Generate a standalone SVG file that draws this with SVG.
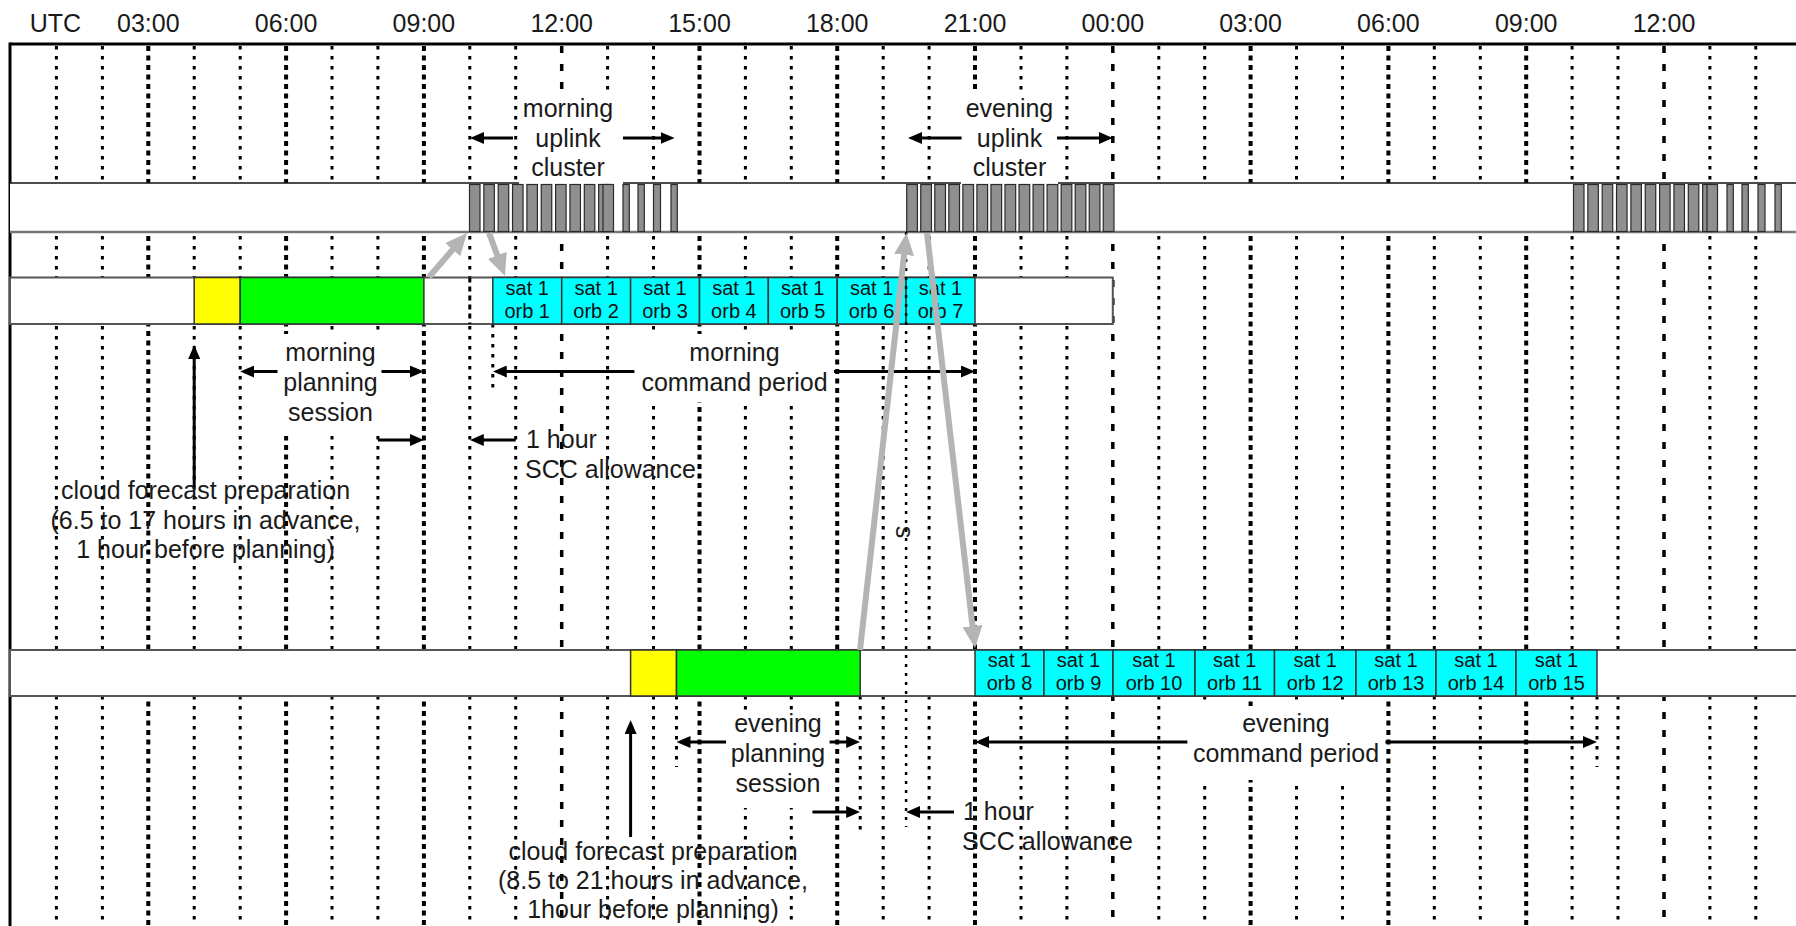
<svg xmlns="http://www.w3.org/2000/svg" width="1796" height="926" viewBox="0 0 1796 926">
<defs>
<style>
.t{font-family:"Liberation Sans",Arial,Helvetica,sans-serif;font-size:25px;fill:#1a1a1a}
.m{text-anchor:middle}
.s{font-family:"Liberation Sans",Arial,Helvetica,sans-serif;font-size:20px;fill:#111;text-anchor:middle}
.g1{stroke:#000;stroke-width:3;stroke-dasharray:3.5 6.5;fill:none}
.g3{stroke:#000;stroke-width:4;stroke-dasharray:5 4.5;fill:none}
.g12{stroke:#000;stroke-width:3.5;stroke-dasharray:7 11;fill:none}
.wb{fill:#fff;stroke:none}
.bar{fill:#fff;stroke:#555;stroke-width:2}
.cy{fill:#00ffff;stroke:#333;stroke-width:1.5}
.ye{fill:#ffff00;stroke:#333;stroke-width:1.5}
.gr{fill:#00ff00;stroke:#333;stroke-width:1.5}
.p{fill:#8f8f8f;stroke:#2a2a2a;stroke-width:1.2}
.ar{stroke:#000;stroke-width:3;fill:none;marker-end:url(#ah)}
.ga{stroke:#b4b4b4;stroke-width:6;fill:none;marker-end:url(#gh)}
</style>
<marker id="ah" viewBox="0 0 14 12" refX="6" refY="6" markerWidth="14" markerHeight="12" markerUnits="userSpaceOnUse" orient="auto">
<path d="M0,0 L14,6 L0,12 z" fill="#000"/>
</marker>
<marker id="gh" viewBox="0 0 22 20" refX="12" refY="10" markerWidth="22" markerHeight="20" markerUnits="userSpaceOnUse" orient="auto">
<path d="M0,0 L22,10 L0,20 z" fill="#b4b4b4"/>
</marker>
</defs>
<rect x="0" y="0" width="1796" height="926" fill="#fff"/>

<g id="header">
<text class="t m" x="55.5" y="32">UTC</text>
<text class="t m" x="148.3" y="32">03:00</text>
<text class="t m" x="286.1" y="32">06:00</text>
<text class="t m" x="423.9" y="32">09:00</text>
<text class="t m" x="561.7" y="32">12:00</text>
<text class="t m" x="699.5" y="32">15:00</text>
<text class="t m" x="837.2" y="32">18:00</text>
<text class="t m" x="975" y="32">21:00</text>
<text class="t m" x="1112.8" y="32">00:00</text>
<text class="t m" x="1250.6" y="32">03:00</text>
<text class="t m" x="1388.4" y="32">06:00</text>
<text class="t m" x="1526.2" y="32">09:00</text>
<text class="t m" x="1664" y="32">12:00</text>
</g>

<g id="grid">
<line class="g1" x1="56.4" y1="46" x2="56.4" y2="926"/>
<line class="g1" x1="102.4" y1="46" x2="102.4" y2="926"/>
<line class="g3" x1="148.3" y1="46" x2="148.3" y2="926"/>
<line class="g1" x1="194.2" y1="46" x2="194.2" y2="926"/>
<line class="g1" x1="240.2" y1="46" x2="240.2" y2="926"/>
<line class="g3" x1="286.1" y1="46" x2="286.1" y2="926"/>
<line class="g1" x1="332" y1="46" x2="332" y2="926"/>
<line class="g1" x1="377.9" y1="46" x2="377.9" y2="926"/>
<line class="g3" x1="423.9" y1="46" x2="423.9" y2="926"/>
<line class="g1" x1="469.8" y1="46" x2="469.8" y2="926"/>
<line class="g1" x1="515.7" y1="46" x2="515.7" y2="926"/>
<line class="g12" x1="561.7" y1="46" x2="561.7" y2="926"/>
<line class="g1" x1="607.6" y1="46" x2="607.6" y2="926"/>
<line class="g1" x1="653.5" y1="46" x2="653.5" y2="926"/>
<line class="g3" x1="699.5" y1="46" x2="699.5" y2="926"/>
<line class="g1" x1="745.4" y1="46" x2="745.4" y2="926"/>
<line class="g1" x1="791.3" y1="46" x2="791.3" y2="926"/>
<line class="g3" x1="837.2" y1="46" x2="837.2" y2="926"/>
<line class="g1" x1="883.2" y1="46" x2="883.2" y2="926"/>
<line class="g1" x1="929.1" y1="46" x2="929.1" y2="926"/>
<line class="g3" x1="975" y1="46" x2="975" y2="926"/>
<line class="g1" x1="1021" y1="46" x2="1021" y2="926"/>
<line class="g1" x1="1066.9" y1="46" x2="1066.9" y2="926"/>
<line class="g12" x1="1112.8" y1="46" x2="1112.8" y2="926"/>
<line class="g1" x1="1158.8" y1="46" x2="1158.8" y2="926"/>
<line class="g1" x1="1204.7" y1="46" x2="1204.7" y2="926"/>
<line class="g3" x1="1250.6" y1="46" x2="1250.6" y2="926"/>
<line class="g1" x1="1296.5" y1="46" x2="1296.5" y2="926"/>
<line class="g1" x1="1342.5" y1="46" x2="1342.5" y2="926"/>
<line class="g3" x1="1388.4" y1="46" x2="1388.4" y2="926"/>
<line class="g1" x1="1434.3" y1="46" x2="1434.3" y2="926"/>
<line class="g1" x1="1480.3" y1="46" x2="1480.3" y2="926"/>
<line class="g3" x1="1526.2" y1="46" x2="1526.2" y2="926"/>
<line class="g1" x1="1572.1" y1="46" x2="1572.1" y2="926"/>
<line class="g1" x1="1618" y1="46" x2="1618" y2="926"/>
<line class="g12" x1="1664" y1="46" x2="1664" y2="926"/>
<line class="g1" x1="1709.9" y1="46" x2="1709.9" y2="926"/>
<line class="g1" x1="1755.8" y1="46" x2="1755.8" y2="926"/>
<line class="g1" x1="492.8" y1="324" x2="492.8" y2="393"/>
<line class="g1" x1="676.5" y1="696" x2="676.5" y2="767"/>
<line class="g1" x1="860.2" y1="696" x2="860.2" y2="833"/>
<line class="g1" x1="1597" y1="696" x2="1597" y2="767"/>
</g>

<g id="frame">
<line x1="10" y1="44" x2="1796" y2="44" stroke="#000" stroke-width="3"/>
<line x1="10" y1="42.5" x2="10" y2="926" stroke="#000" stroke-width="3"/>
</g>

<g id="uplink-band">
<rect x="10" y="183" width="1786" height="49" fill="#fff"/>
<line x1="10" y1="183" x2="1796" y2="183" stroke="#111" stroke-width="1.5"/>
<line x1="10" y1="232" x2="1796" y2="232" stroke="#777" stroke-width="2.5"/>
</g>

<g id="label-boxes">
<rect class="wb" x="519" y="92" width="104" height="92.5"/>
<rect class="wb" x="961" y="90" width="97" height="94.5"/>
<rect class="wb" x="280" y="334" width="104" height="102"/>
<rect class="wb" x="636" y="334" width="196" height="68"/>
<rect class="wb" x="728" y="712" width="100" height="96"/>
<rect class="wb" x="1190" y="706" width="192" height="74"/>
</g>

<g id="morning-uplink-cluster">
<rect class="p" x="469.5" y="184.5" width="10.5" height="47"/>
<rect class="p" x="483.85" y="184.5" width="10.5" height="47"/>
<rect class="p" x="498.2" y="184.5" width="10.5" height="47"/>
<rect class="p" x="512.55" y="184.5" width="10.5" height="47"/>
<rect class="p" x="526.9" y="184.5" width="10.5" height="47"/>
<rect class="p" x="541.25" y="184.5" width="10.5" height="47"/>
<rect class="p" x="555.6" y="184.5" width="10.5" height="47"/>
<rect class="p" x="569.95" y="184.5" width="10.5" height="47"/>
<rect class="p" x="584.3" y="184.5" width="10.5" height="47"/>
<rect class="p" x="598.65" y="184.5" width="10.5" height="47"/>
<rect class="p" x="603" y="184.5" width="10.5" height="47"/>
<rect class="p" x="623" y="184.5" width="6.3" height="47"/>
<rect class="p" x="638" y="184.5" width="6.3" height="47"/>
<rect class="p" x="653.5" y="184.5" width="7" height="47"/>
<rect class="p" x="671" y="184.5" width="6.3" height="47"/>
</g>

<g id="evening-uplink-cluster">
<rect class="p" x="906.7" y="184.5" width="10.7" height="47"/>
<rect class="p" x="920.74" y="184.5" width="10.7" height="47"/>
<rect class="p" x="934.78" y="184.5" width="10.7" height="47"/>
<rect class="p" x="948.82" y="184.5" width="10.7" height="47"/>
<rect class="p" x="962.86" y="184.5" width="10.7" height="47"/>
<rect class="p" x="976.9" y="184.5" width="10.7" height="47"/>
<rect class="p" x="990.94" y="184.5" width="10.7" height="47"/>
<rect class="p" x="1004.98" y="184.5" width="10.7" height="47"/>
<rect class="p" x="1019.02" y="184.5" width="10.7" height="47"/>
<rect class="p" x="1033.06" y="184.5" width="10.7" height="47"/>
<rect class="p" x="1047.1" y="184.5" width="10.7" height="47"/>
<rect class="p" x="1061.14" y="184.5" width="10.7" height="47"/>
<rect class="p" x="1075.18" y="184.5" width="10.7" height="47"/>
<rect class="p" x="1089.22" y="184.5" width="10.7" height="47"/>
<rect class="p" x="1103.26" y="184.5" width="10.7" height="47"/>
</g>

<g id="next-morning-uplink-cluster">
<rect class="p" x="1573.5" y="184.5" width="10.5" height="47"/>
<rect class="p" x="1587.85" y="184.5" width="10.5" height="47"/>
<rect class="p" x="1602.2" y="184.5" width="10.5" height="47"/>
<rect class="p" x="1616.55" y="184.5" width="10.5" height="47"/>
<rect class="p" x="1630.9" y="184.5" width="10.5" height="47"/>
<rect class="p" x="1645.25" y="184.5" width="10.5" height="47"/>
<rect class="p" x="1659.6" y="184.5" width="10.5" height="47"/>
<rect class="p" x="1673.95" y="184.5" width="10.5" height="47"/>
<rect class="p" x="1688.3" y="184.5" width="10.5" height="47"/>
<rect class="p" x="1702.65" y="184.5" width="10.5" height="47"/>
<rect class="p" x="1707" y="184.5" width="10.5" height="47"/>
<rect class="p" x="1727" y="184.5" width="6.3" height="47"/>
<rect class="p" x="1742" y="184.5" width="6.3" height="47"/>
<rect class="p" x="1758" y="184.5" width="7" height="47"/>
<rect class="p" x="1775" y="184.5" width="6.3" height="47"/>
</g>

<g id="morning-bar">
<rect class="bar" x="10" y="277.5" width="1102.8" height="46.5"/>
<rect class="ye" x="194.2" y="277.5" width="46" height="46.5"/>
<rect class="gr" x="240.2" y="277.5" width="183.7" height="46.5"/>
<line x1="469.8" y1="277.5" x2="469.8" y2="324" stroke="#000" stroke-width="3" stroke-dasharray="5 4"/>
</g>

<g id="morning-orbits">
<rect class="cy" x="492.8" y="277.5" width="68.9" height="46.5"/>
<rect class="cy" x="561.7" y="277.5" width="68.9" height="46.5"/>
<rect class="cy" x="630.6" y="277.5" width="68.9" height="46.5"/>
<rect class="cy" x="699.5" y="277.5" width="68.8" height="46.5"/>
<rect class="cy" x="768.3" y="277.5" width="68.9" height="46.5"/>
<rect class="cy" x="837.2" y="277.5" width="68.9" height="46.5"/>
<rect class="cy" x="906.1" y="277.5" width="68.9" height="46.5"/>
<text class="s" x="527.2" y="295">sat 1</text><text class="s" x="527.2" y="318">orb 1</text>
<text class="s" x="596.1" y="295">sat 1</text><text class="s" x="596.1" y="318">orb 2</text>
<text class="s" x="665" y="295">sat 1</text><text class="s" x="665" y="318">orb 3</text>
<text class="s" x="733.9" y="295">sat 1</text><text class="s" x="733.9" y="318">orb 4</text>
<text class="s" x="802.7" y="295">sat 1</text><text class="s" x="802.7" y="318">orb 5</text>
<text class="s" x="871.6" y="295">sat 1</text><text class="s" x="871.6" y="318">orb 6</text>
<text class="s" x="940.5" y="295">sat 1</text><text class="s" x="940.5" y="318">orb 7</text>
</g>

<g id="evening-bar">
<rect class="bar" x="10" y="650" width="1790" height="46"/>
<rect class="ye" x="630.6" y="650" width="45.9" height="46"/>
<rect class="gr" x="676.5" y="650" width="183.7" height="46"/>
</g>

<g id="evening-orbits">
<rect class="cy" x="975" y="650" width="69" height="46"/>
<rect class="cy" x="1044" y="650" width="69" height="46"/>
<rect class="cy" x="1113" y="650" width="82" height="46"/>
<rect class="cy" x="1195" y="650" width="79.5" height="46"/>
<rect class="cy" x="1274.5" y="650" width="81.5" height="46"/>
<rect class="cy" x="1356" y="650" width="80" height="46"/>
<rect class="cy" x="1436" y="650" width="80" height="46"/>
<rect class="cy" x="1516" y="650" width="81" height="46"/>
<text class="s" x="1009.5" y="667">sat 1</text><text class="s" x="1009.5" y="690">orb 8</text>
<text class="s" x="1078.5" y="667">sat 1</text><text class="s" x="1078.5" y="690">orb 9</text>
<text class="s" x="1154" y="667">sat 1</text><text class="s" x="1154" y="690">orb 10</text>
<text class="s" x="1234.7" y="667">sat 1</text><text class="s" x="1234.7" y="690">orb 11</text>
<text class="s" x="1315.2" y="667">sat 1</text><text class="s" x="1315.2" y="690">orb 12</text>
<text class="s" x="1396" y="667">sat 1</text><text class="s" x="1396" y="690">orb 13</text>
<text class="s" x="1476" y="667">sat 1</text><text class="s" x="1476" y="690">orb 14</text>
<text class="s" x="1556.5" y="667">sat 1</text><text class="s" x="1556.5" y="690">orb 15</text>
</g>

<g id="scc-line">
<line x1="906.1" y1="232" x2="906.1" y2="827" stroke="#000" stroke-width="2.5" stroke-dasharray="3 6"/>
<text class="t m" x="0" y="0" transform="translate(905,532) rotate(90)" dominant-baseline="central">s</text>
</g>

<g id="labels">
<text class="t m" x="568" y="117">morning</text>
<text class="t m" x="568" y="146.5">uplink</text>
<text class="t m" x="568" y="176">cluster</text>
<text class="t m" x="1009.5" y="117">evening</text>
<text class="t m" x="1009.5" y="146.5">uplink</text>
<text class="t m" x="1009.5" y="176">cluster</text>
<text class="t m" x="330.5" y="361">morning</text>
<text class="t m" x="330.5" y="391">planning</text>
<text class="t m" x="330.5" y="421">session</text>
<text class="t m" x="734.5" y="361">morning</text>
<text class="t m" x="734.5" y="391">command period</text>
<text class="t" x="526" y="448">1 hour</text>
<text class="t" x="525" y="478">SCC allowance</text>
<text class="t m" x="205.5" y="499">cloud forecast preparation</text>
<text class="t m" x="205.5" y="528.5">(6.5 to 17 hours in advance,</text>
<text class="t m" x="205.5" y="558">1 hour before planning)</text>
<text class="t m" x="778" y="732">evening</text>
<text class="t m" x="778" y="762">planning</text>
<text class="t m" x="778" y="792">session</text>
<text class="t m" x="1286" y="732">evening</text>
<text class="t m" x="1286" y="762">command period</text>
<text class="t" x="963" y="820">1 hour</text>
<text class="t" x="962" y="850">SCC allowance</text>
<text class="t m" x="653" y="860">cloud forecast preparation</text>
<text class="t m" x="653" y="889">(8.5 to 21 hours in advance,</text>
<text class="t m" x="653" y="918">1hour before planning)</text>
</g>

<g id="connectors">
<line class="ar" x1="513" y1="138" x2="478" y2="138"/>
<line class="ar" x1="623" y1="138" x2="666.6" y2="138"/>
<line class="ar" x1="961.6" y1="138" x2="916" y2="138"/>
<line class="ar" x1="1057" y1="138" x2="1104.8" y2="138"/>
<line class="ar" x1="277.5" y1="371.5" x2="248.2" y2="371.5"/>
<line class="ar" x1="381.5" y1="371.5" x2="415.9" y2="371.5"/>
<line class="ar" x1="634.4" y1="371.5" x2="500.8" y2="371.5"/>
<line class="ar" x1="834" y1="371.5" x2="967" y2="371.5"/>
<line class="ar" x1="377.9" y1="440" x2="415.9" y2="440"/>
<line class="ar" x1="515.7" y1="440" x2="477.8" y2="440"/>
<line class="ar" x1="194.2" y1="487" x2="194.2" y2="353"/>
<line class="ar" x1="726" y1="742" x2="684.5" y2="742"/>
<line class="ar" x1="829.6" y1="742" x2="852.2" y2="742"/>
<line class="ar" x1="1187.4" y1="742" x2="983" y2="742"/>
<line class="ar" x1="1385.4" y1="742" x2="1589" y2="742"/>
<line class="ar" x1="812.4" y1="812" x2="852.2" y2="812"/>
<line class="ar" x1="954" y1="812" x2="914.1" y2="812"/>
<line class="ar" x1="630.6" y1="837" x2="630.6" y2="728"/>
<line class="ga" x1="429" y1="277" x2="460.5" y2="240.6"/>
<line class="ga" x1="489" y1="233" x2="501.5" y2="266.6"/>
<line class="ga" x1="860" y1="650" x2="905.4" y2="242.9"/>
<line class="ga" x1="927" y1="233" x2="973.9" y2="638.1"/>
</g>
</svg>
